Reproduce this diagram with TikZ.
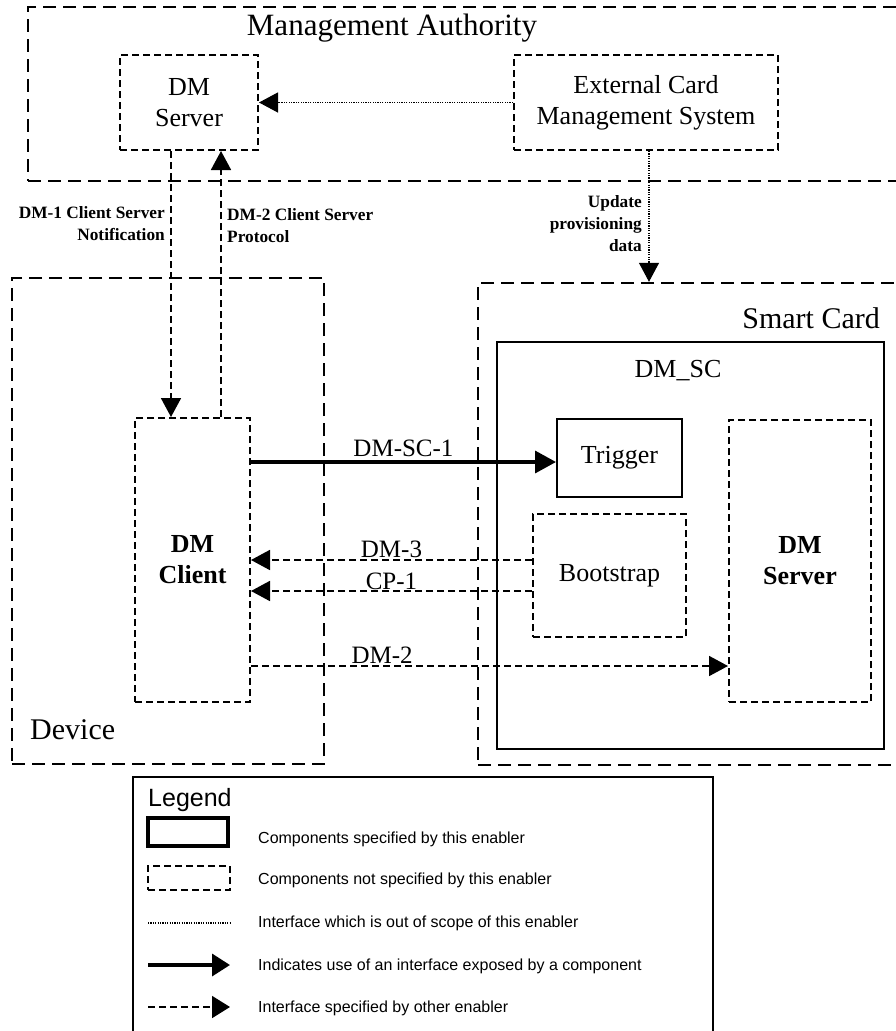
\documentclass[tikz,border=0pt]{standalone}
\usepackage{fontspec}
\setmainfont{Liberation Serif}
\newfontfamily\legendfont{Liberation Sans}
\usetikzlibrary{arrows.meta,calc}
\begin{document}
\begin{tikzpicture}[x=1pt,y=-1pt,
  bigdash/.style={draw, line width=2.4pt, dash pattern=on 13pt off 7pt},
  boxdash/.style={draw, line width=2pt, dash pattern=on 7pt off 4pt},
  solidbox/.style={draw, line width=2pt},
  area/.style={rectangle, inner sep=0pt},
  comp/.style={rectangle, inner sep=0pt, align=center, font=\fontsize{26}{31}\selectfont},
  bcomp/.style={comp, font=\fontsize{26}{31}\selectfont\bfseries},
  title/.style={inner sep=0pt, font=\fontsize{30}{34}\selectfont},
  small/.style={inner sep=0pt, font=\fontsize{17.3}{22}\selectfont\bfseries},
  lbl/.style={inner sep=2pt, font=\fontsize{25}{28}\selectfont},
  dotline/.style={line width=1.2pt, dash pattern=on 1.2pt off 1.2pt},
  dashline/.style={line width=1.8pt, dash pattern=on 7pt off 4pt},
  tip/.style={-{Triangle[length=19pt,width=20pt]}},
  legtext/.style={anchor=west, inner sep=0pt, font=\legendfont\fontsize{16}{19}\selectfont}
]
\useasboundingbox (0,0) rectangle (896,1031);

% Management Authority
\node[area, bigdash, minimum width=877pt, minimum height=174pt] (ma) at (466.5,94) {};
\node[title, font=\fontsize{31}{34}\selectfont] (matitle) at (392,28) {Management Authority};
\node[comp, boxdash, minimum width=138pt, minimum height=95pt] (dms1) at (189,102.5) {DM\\Server};
\node[comp, boxdash, minimum width=264pt, minimum height=95pt] (ecms) at (646,102.5) {External Card\\Management System};

% Device
\node[area, bigdash, minimum width=312pt, minimum height=486pt] (device) at (168,521) {};
\node[title, anchor=west] (devtitle) at (30,730) {Device};
\node[bcomp, boxdash, minimum width=115pt, minimum height=284pt] (client) at (192.5,560) {DM\\Client};

% Smart Card
\node[area, bigdash, minimum width=427pt, minimum height=482pt] (card) at (691.5,524) {};
\node[title, anchor=east] (cardtitle) at (880,318) {Smart Card};
\node[area, solidbox, minimum width=387pt, minimum height=407pt] (dmsc) at (690.5,545.5) {};
\node[title, font=\fontsize{26}{30}\selectfont] (dmsctitle) at (678,371) {DM\_SC};
\node[comp, solidbox, minimum width=125pt, minimum height=78pt] (trigger) at (619.5,458) {Trigger};
\node[comp, boxdash, minimum width=153pt, minimum height=123pt] (boot) at (609.5,575.5) {Bootstrap};
\node[bcomp, boxdash, minimum width=142pt, minimum height=282pt] (dms2) at (800,561) {DM\\Server};

% helper coordinates
\coordinate (x1) at (171,0);
\coordinate (x2) at (221,0);
\coordinate (x3) at (649,0);
\coordinate (ysc) at (0,462);
\coordinate (ydm3) at (0,560);
\coordinate (ycp) at (0,591);
\coordinate (ydm2) at (0,666);

% connectors
\draw[dotline, tip] (ecms.west) -- (dms1.east);
\draw[dashline, tip] (dms1.south -| x1) -- (client.north -| x1);
\draw[dashline, tip] (client.north -| x2) -- (dms1.south -| x2);
\draw[dotline, tip] (ecms.south -| x3) -- (card.north -| x3);
\draw[line width=3.5pt, -{Triangle[length=21pt,width=22pt]}] (client.east |- ysc) -- (trigger.west |- ysc)
  node[lbl, above, inner sep=4pt, midway] (lsc) {DM-SC-1};
\draw[dashline, tip] (boot.west |- ydm3) -- (client.east |- ydm3)
  node[lbl, above, inner sep=1.5pt, midway] (ldm3) {DM-3};
\draw[dashline, tip] (boot.west |- ycp) -- (client.east |- ycp)
  node[lbl, above, inner sep=0.5pt, midway] (lcp) {CP-1};
\draw[dashline, tip] (client.east |- ydm2) -- (dms2.west |- ydm2)
  node[lbl, above, pos=0.275] (ldm2) {DM-2};

% small labels
\node[small, align=right, anchor=east] (l1) at (165,224) {DM-1 Client Server\\Notification};
\node[small, align=left, anchor=west] (l2) at (227,226) {DM-2 Client Server\\Protocol};
\node[small, align=right, anchor=east] (l3) at (642,224) {Update\\provisioning\\data};

% legend
\node[area, draw, line width=1.8pt, minimum width=580pt, minimum height=270pt] (legend) at (423,912) {};
\node[inner sep=0pt, anchor=west, font=\legendfont\fontsize{25}{28}\selectfont] (legtitle) at (148,800) {Legend};
\node[area, draw, line width=4pt, minimum width=80pt, minimum height=28pt] (lg1) at (188,832) {};
\node[legtext] (lt1) at (258,839) {Components specified by this enabler};
\node[area, boxdash, minimum width=82pt, minimum height=24pt] (lg2) at (189,878) {};
\node[legtext] (lt2) at (258,880) {Components not specified by this enabler};
\coordinate (la3) at (148,923);
\coordinate (lb3) at (230,923);
\draw[dotline] (la3) -- (lb3);
\node[legtext] (lt3) at (258,923) {Interface which is out of scope of this enabler};
\coordinate (la4) at (148,965);
\coordinate (lb4) at (230,965);
\draw[line width=3.5pt, -{Triangle[length=18pt,width=22pt]}] (la4) -- (lb4);
\node[legtext] (lt4) at (258,966) {Indicates use of an interface exposed by a component};
\coordinate (la5) at (148,1007);
\coordinate (lb5) at (230,1007);
\draw[dashline, -{Triangle[length=18pt,width=22pt]}] (la5) -- (lb5);
\node[legtext] (lt5) at (258,1008) {Interface specified by other enabler};
\end{tikzpicture}
\end{document}
